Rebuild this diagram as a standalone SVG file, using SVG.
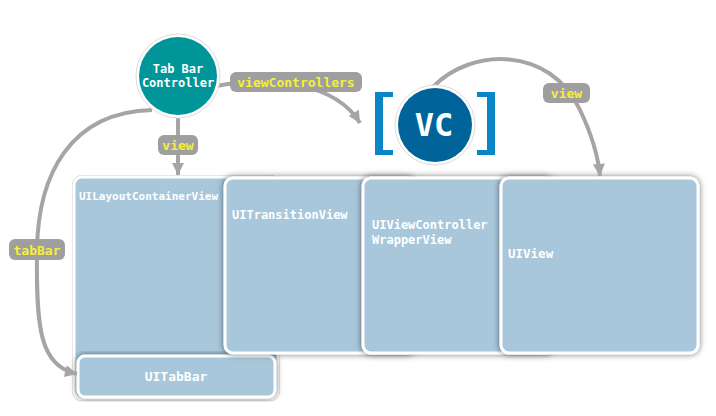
<svg xmlns="http://www.w3.org/2000/svg" width="716" height="416" viewBox="0 0 716 416">
<style>
.box{fill:#a8c7da;stroke:#fff;stroke-width:3;filter:url(#sh)}
.rim{fill:none;stroke:#d0d0d0;stroke-width:1}
.lbl{font-family:"DejaVu Sans Mono",monospace;font-weight:bold;fill:#fff}
.conn{fill:none;stroke:#a9a4a4;stroke-width:4}
.tagbox{fill:#9f9f9f}
.tag{font-family:"DejaVu Sans Mono",monospace;font-weight:bold;font-size:13px;fill:#f6ee3a;text-anchor:middle}
</style>
<defs>
<filter id="sh" x="-10%" y="-10%" width="120%" height="120%">
<feDropShadow dx="0" dy="0" stdDeviation="3" flood-color="#000" flood-opacity="0.55"/>
</filter>
<marker id="ah" viewBox="0 0 10 10" refX="10" refY="5" markerWidth="3.5" markerHeight="3" orient="auto" markerUnits="strokeWidth">
<path d="M0,0 L10,5 L0,10 Z" fill="#a9a4a4"/>
</marker>
</defs>
<rect width="716" height="416" fill="#fff"/>

<g id="UILayoutContainerView">
<rect x="72.5" y="175.5" width="207" height="225" rx="9" class="rim"/>
<rect x="74" y="177" width="204" height="222" rx="8" class="box" style="filter:none"/>
<text x="79" y="200" class="lbl" font-size="11">UILayoutContainerView</text>
</g>
<g id="UITabBar">
<rect x="78" y="356" width="197" height="41" rx="7" class="box"/>
<text x="176" y="381" class="lbl" font-size="13" text-anchor="middle">UITabBar</text>
</g>
<g id="UITransitionView">
<rect x="225" y="178" width="190" height="175" rx="8" class="box"/>
<text x="232" y="219" class="lbl" font-size="12">UITransitionView</text>
</g>
<g id="UIViewControllerWrapperView">
<rect x="363" y="178" width="190" height="175" rx="8" class="box"/>
<text x="372" y="229" class="lbl" font-size="12">UIViewController</text>
<text x="372" y="244" class="lbl" font-size="12">WrapperView</text>
</g>
<g id="UIView">
<rect x="501" y="178" width="197" height="175" rx="8" class="box"/>
<text x="508" y="258" class="lbl" font-size="12.5">UIView</text>
</g>

<g id="connectors">
<path class="conn" d="M178,118 L178,175" marker-end="url(#ah)"/>
<path class="conn" d="M152,110 C70,112 38,175 37,250 C36,330 40,365 77,374" marker-end="url(#ah)"/>
<path class="conn" d="M216,86 C270,76 335,82 360,123" marker-end="url(#ah)"/>
<path class="conn" d="M433,87 C470,48 550,45 580,110 C592,135 598,155 600,176" marker-end="url(#ah)"/>
<rect class="tagbox" x="158" y="135" width="40" height="20" rx="6"/>
<text class="tag" x="178" y="150">view</text>
<rect class="tagbox" x="9" y="239" width="56" height="21" rx="6"/>
<text class="tag" x="37" y="254.5">tabBar</text>
<rect class="tagbox" x="230" y="72" width="132" height="20" rx="6"/>
<text class="tag" x="296" y="87">viewControllers</text>
<rect class="tagbox" x="543" y="83" width="47" height="20" rx="6"/>
<text class="tag" x="566.5" y="98">view</text>
</g>

<g id="TabBarController">
<circle cx="178" cy="76" r="42" fill="#fff" stroke="#dcdcdc" stroke-width="1"/>
<circle cx="178" cy="76" r="39" fill="#009598"/>
<text x="178" y="73" class="lbl" font-size="12" text-anchor="middle">Tab Bar</text>
<text x="178" y="87" class="lbl" font-size="12" text-anchor="middle">Controller</text>
</g>

<g id="VC">
<path d="M375,92 H393 V97 H383 V150 H393 V155 H375 Z" fill="#0a86c8"/>
<path d="M495,92 H477 V97 H487 V150 H477 V155 H495 Z" fill="#0a86c8"/>
<circle cx="435" cy="125" r="40" fill="#fff" stroke="#dcdcdc" stroke-width="1"/>
<circle cx="435" cy="125" r="37" fill="#00649b"/>
<text x="434" y="136" class="lbl" font-size="32" text-anchor="middle">VC</text>
</g>
</svg>
